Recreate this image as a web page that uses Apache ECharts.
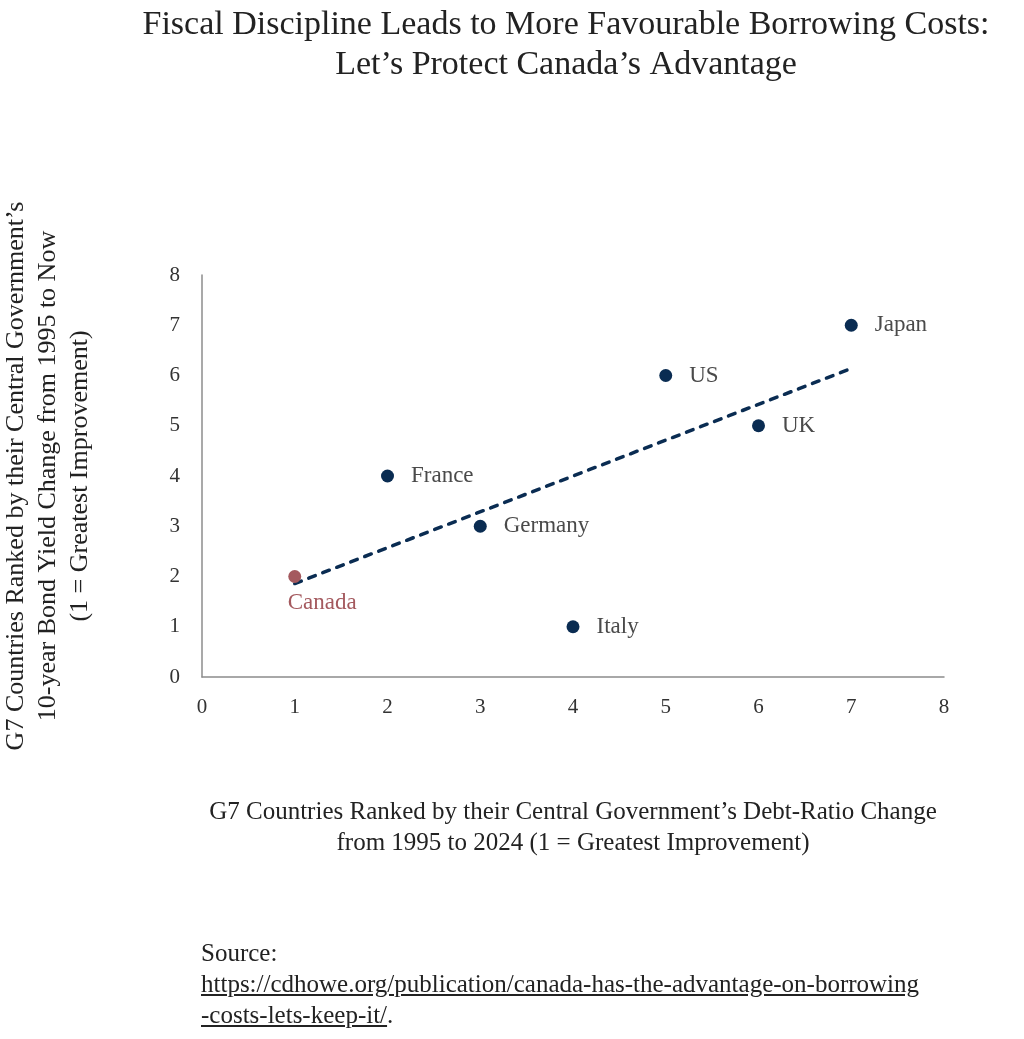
<!DOCTYPE html>
<html>
<head>
<meta charset="utf-8">
<script src="https://cdn.jsdelivr.net/npm/echarts@6/dist/echarts.min.js"></script>
<style>
  html, body { margin: 0; padding: 0; background: #fff; }
  .chart { width: 1024px; height: 1039px; }
  .source {
    position: absolute; left: 201px; top: 937px;
    font-family: "Liberation Serif", serif; font-size: 25px; line-height: 31px; color: #222;
  }
  .source a { color: #222; text-decoration: underline; }
</style>
</head>
<body>
<div class="chart"></div>
<div class="source">Source:<br><a>https://cdhowe.org/publication/canada-has-the-advantage-on-borrowing<br>-costs-lets-keep-it/</a>.</div>
<script>
// data
var countries = ['Canada', 'France', 'Germany', 'Italy', 'US', 'UK', 'Japan'];
var debtRank = [1, 2, 3, 4, 5, 6, 7];
var yieldRank = [2, 4, 3, 1, 6, 5, 7];
var trendX = [1, 7];
var trendY = [1.86, 6.14];

var serif = 'Liberation Serif';
var navy = '#0a2c52';
var rose = '#a4595e';

var points = countries.map(function (name, i) {
    var isCanada = name === 'Canada';
    return {
        name: name,
        value: [debtRank[i], yieldRank[i]],
        itemStyle: { color: isCanada ? rose : navy },
        label: isCanada
            ? { position: 'bottom', align: 'left', distance: 8, offset: [-7, 0], color: rose }
            : { position: 'right', distance: 17, color: '#4a4a4a' }
    };
});

var myChart = echarts.init(document.querySelector('.chart'));

var option = {
    animation: false,
    title: {
        text: 'Fiscal Discipline Leads to More Favourable Borrowing Costs:\nLet\u2019s Protect Canada\u2019s Advantage',
        left: 561,
        top: 0,
        textAlign: 'center',
        textStyle: {
            fontFamily: serif, fontWeight: 'normal', fontSize: 34, lineHeight: 40, color: '#222'
        }
    },
    grid: { left: 202, right: 80, top: 275, bottom: 362, outerBoundsMode: 'none' },
    xAxis: {
        type: 'value', min: 0, max: 8, interval: 1,
        name: 'G7 Countries Ranked by their Central Government\u2019s Debt-Ratio Change\nfrom 1995 to 2024 (1 = Greatest Improvement)',
        nameLocation: 'middle',
        nameGap: 120,
        nameTextStyle: { fontFamily: serif, fontSize: 25, lineHeight: 31, color: '#222' },
        axisLine: { lineStyle: { color: '#8c8c8c', width: 1.5 } },
        axisTick: { show: false },
        splitLine: { show: false },
        axisLabel: { fontFamily: serif, fontSize: 21, color: '#333', margin: 20 }
    },
    yAxis: {
        type: 'value', min: 0, max: 8, interval: 1,
        name: 'G7 Countries Ranked by their Central Government\u2019s\n10-year Bond Yield Change from 1995 to Now\n(1 = Greatest Improvement)',
        nameLocation: 'middle',
        nameRotate: 90,
        nameGap: 106,
        nameTextStyle: { fontFamily: serif, fontSize: 26, lineHeight: 32, color: '#222', padding: [0, 0, 0, 0] },
        axisLine: { show: true, lineStyle: { color: '#8c8c8c', width: 1.5 } },
        axisTick: { show: false },
        splitLine: { show: false },
        axisLabel: { fontFamily: serif, fontSize: 21, color: '#333', margin: 22 }
    },
    series: [{
        type: 'line',
        data: trendX.map(function (x, i) { return [x, trendY[i]]; }),
        showSymbol: false,
        lineStyle: { color: navy, width: 3.5, type: [7, 8], cap: 'round' },
        z: 1
    }, {
        type: 'scatter',
        data: points,
        symbolSize: 13,
        itemStyle: { opacity: 1 },
        label: {
            show: true,
            formatter: '{b}',
            fontFamily: serif,
            fontSize: 23
        },
        z: 2
    }]
};

myChart.setOption(option);
</script>
</body>
</html>
